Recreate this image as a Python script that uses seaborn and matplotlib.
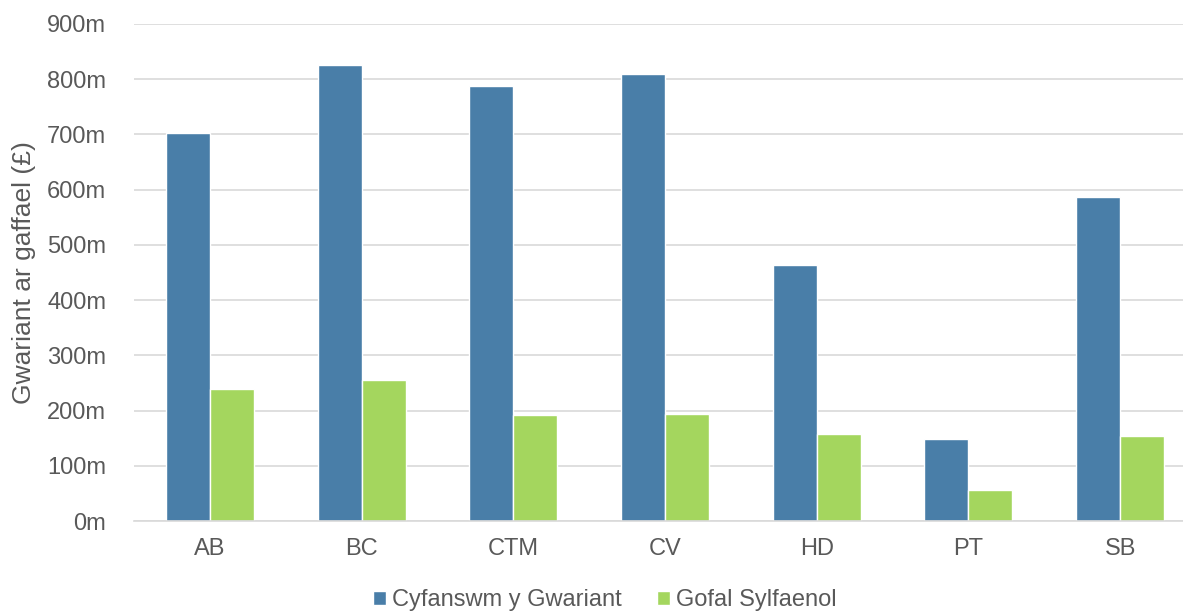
import matplotlib
matplotlib.use("Agg")
import matplotlib.pyplot as plt
import seaborn as sns
import pandas as pd
from matplotlib.ticker import FuncFormatter, MultipleLocator

categories = ["AB", "BC", "CTM", "CV", "HD", "PT", "SB"]
total_spend = [703, 826, 788, 810, 464, 148, 587]
core_care = [239, 255, 192, 194, 158, 56, 154]
series_names = ["Cyfanswm y Gwariant", "Gofal Sylfaenol"]
colors = ["#497EA8", "#A4D65E"]

df = pd.DataFrame({
    "cat": categories * 2,
    "val": total_spend + core_care,
    "series": [series_names[0]] * len(categories) + [series_names[1]] * len(categories),
})

sns.set_theme(style="white")
plt.rcParams['font.family'] = ['Liberation Sans', 'DejaVu Sans']

fig = plt.figure(figsize=(11.83, 6.11), dpi=100)
ax = fig.add_axes([134 / 1183, 1 - 521 / 611, (1183 - 134) / 1183, (521 - 24) / 611])

sns.barplot(data=df, x="cat", y="val", hue="series", palette=colors,
            width=0.58, saturation=1, ax=ax, legend=True)

ax.set_ylim(0, 900)
ax.set_xlim(-0.5, 6.414)
ax.yaxis.set_major_locator(MultipleLocator(100))
ax.yaxis.set_major_formatter(FuncFormatter(lambda v, p: f"{int(v)}m"))
ax.grid(axis="y", color="#D9D9D9", linewidth=1.2)
ax.set_axisbelow(True)
for s in ["top", "right", "left"]:
    ax.spines[s].set_visible(False)
ax.spines["bottom"].set_color("#D9D9D9")
ax.spines["bottom"].set_linewidth(1.2)
ax.tick_params(axis="both", colors="#595959", labelsize=17, length=0)
ax.tick_params(axis="x", pad=12)
ax.tick_params(axis="y", pad=20)
ax.set_xlabel("")
ax.set_ylabel("Gwariant ar gaffael (£)", fontsize=19, color="#595959", labelpad=8)

handles, labels = ax.get_legend_handles_labels()
ax.get_legend().remove()
fig.legend(handles, labels, loc="center", bbox_to_anchor=(604.5 / 1183, 1 - 600 / 611),
           ncol=2, frameon=False, fontsize=17, labelcolor="#595959",
           handlelength=0.55, handleheight=0.55, handletextpad=0.25, columnspacing=1.5,
           borderpad=0)

fig.savefig("out.png", dpi=100)
